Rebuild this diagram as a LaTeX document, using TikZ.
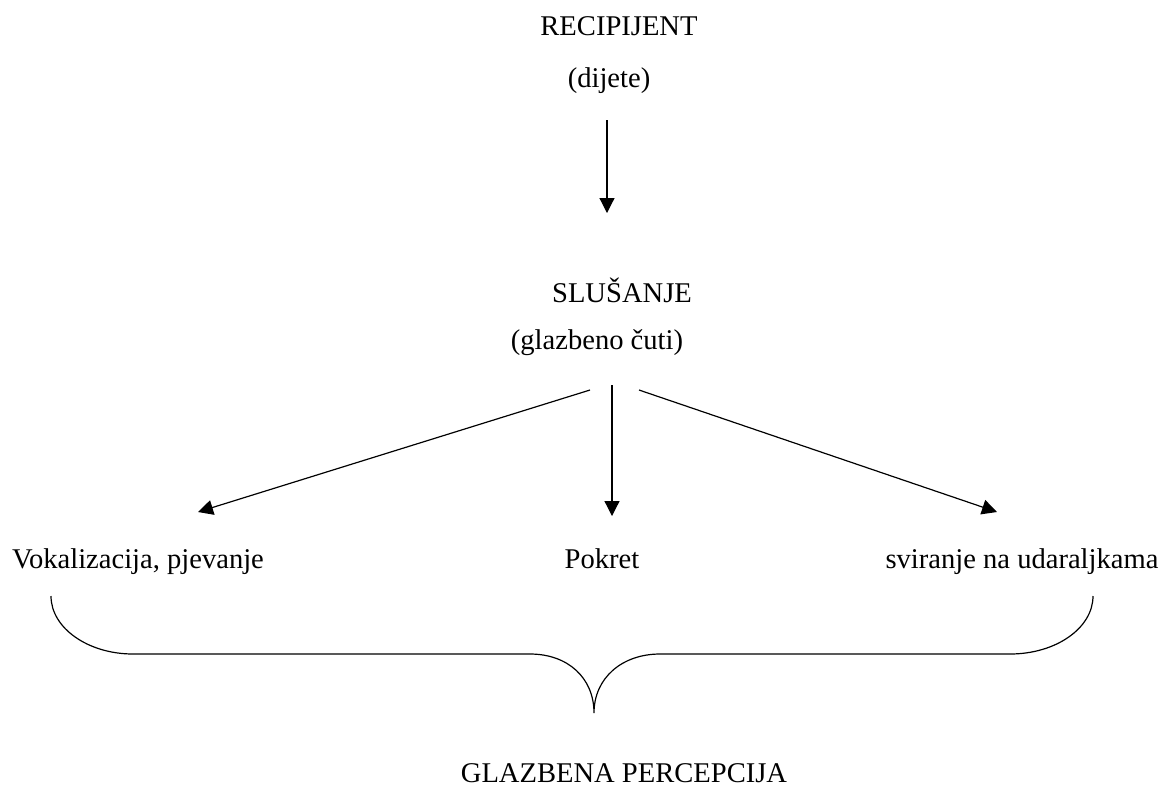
\documentclass[tikz,border=0pt]{standalone}
\usepackage{fontspec}
\setmainfont{Liberation Serif}
\usetikzlibrary{arrows.meta,positioning}

\begin{document}
\begin{tikzpicture}
        [x=0.42pt, y=-0.42pt,
         term/.style={anchor=base, inner sep=0pt, font=\fontsize{12}{14}\selectfont},
         post/.style={-{Triangle[length=6.3pt, width=6.3pt]}, line width=0.5pt},
         brace/.style={line width=0.5pt}]
        \useasboundingbox (0,0) rectangle (1166,786);

        \node[term] (recipijent) at (619,35) {RECIPIJENT};
        \node[term] (dijete) at (609,87) {(dijete)};
        \node[term] (slusanje) at (622,302) {SLUŠANJE};
        \node[term] (cuti) at (597,349) {(glazbeno čuti)};
        \node[term] (vokal) at (138,568) {Vokalizacija, pjevanje};
        \node[term] (pokret) at (602,568) {Pokret};
        \node[term] (sviranje) at (1022,568) {sviranje na udaraljkama};
        \node[term] (percepcija) at (624,782) {GLAZBENA PERCEPCIJA};

        % arrow ends
        \coordinate (dijete out) at (607,120);
        \coordinate (slusanje in) at (607,213);
        \coordinate (cuti left) at (590,390);
        \coordinate (cuti mid) at (612,385);
        \coordinate (cuti right) at (639,390);
        \coordinate (vokal in) at (198,512);
        \coordinate (pokret in) at (612,516);
        \coordinate (sviranje in) at (997,512);

        \draw[post] (dijete out) -- (slusanje in);
        \draw[post] (cuti left) -- (vokal in);
        \draw[post] (cuti mid) -- (pokret in);
        \draw[post] (cuti right) -- (sviranje in);

        % brace under the three activities
        \coordinate (brace tip) at (594,713);
        \draw[brace] (51,596) .. controls (51,628) and (88,654) .. (133,654)
                -- (530,654) .. controls (568,654) and (594,678) .. (brace tip)
                .. controls (594,678) and (622,654) .. (660,654)
                -- (1010,654) .. controls (1056,654) and (1093,628) .. (1093,596);
\end{tikzpicture}
\end{document}
